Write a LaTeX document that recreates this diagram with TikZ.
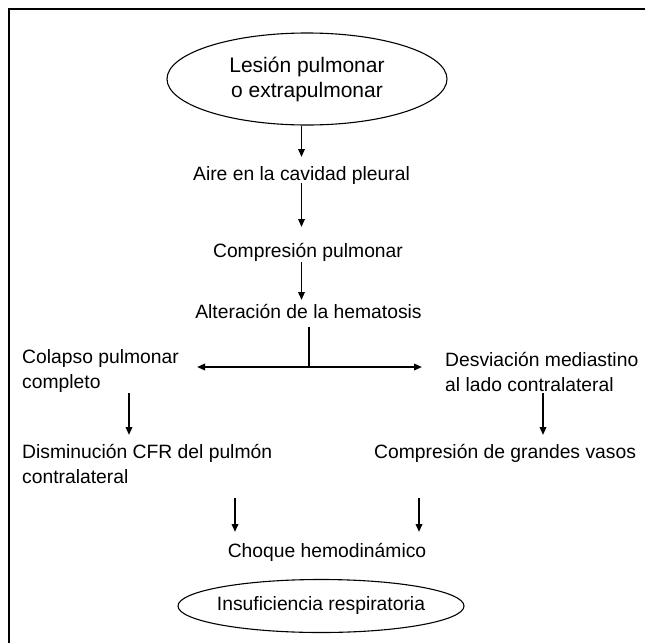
\documentclass[tikz,border=0pt]{standalone}
\usepackage{fontspec}
\setmainfont{Liberation Sans}
\usetikzlibrary{arrows.meta,shapes.geometric}
\begin{document}
\begin{tikzpicture}[x=1pt,y=-1pt,
  txt/.style={inner sep=0pt, font=\fontsize{19.3}{25}\selectfont},
  arr/.style={line width=1.8pt, -{Triangle[length=8pt,width=6.5pt]}},
  plainline/.style={line width=1.8pt},
  ov/.style={draw, line width=1.1pt, ellipse, inner sep=0pt},
  frame/.style={line width=1.6pt}
]
\useasboundingbox (0,0) rectangle (645,643);
\fill[white] (0,0) rectangle (645,643);
\draw[frame] (9,643) -- (9,9) -- (645,9);

\node[ov, minimum width=280pt, minimum height=92pt, align=center,
      font=\fontsize{21}{25}\selectfont] (e1) at (307,79) {Lesión pulmonar\\o extrapulmonar};
\node[txt, anchor=base] (aire) at (301.5,180) {Aire en la cavidad pleural};
\node[txt, anchor=base] (comp) at (308,257) {Compresión pulmonar};
\node[txt, anchor=base] (alt) at (308.5,318) {Alteración de la hematosis};
\node[txt, anchor=base west] (col1) at (22,363) {Colapso pulmonar};
\node[txt, anchor=base west] (col2) at (22,388) {completo};
\node[txt, anchor=base west] (desv1) at (445,366) {Desviación mediastino};
\node[txt, anchor=base west] (desv2) at (445,391) {al lado contralateral};
\node[txt, anchor=base west] (cfr1) at (22,458) {Disminución CFR del pulmón};
\node[txt, anchor=base west] (cfr2) at (22,483) {contralateral};
\node[txt, anchor=base west] (vasos) at (374,458) {Compresión de grandes vasos};
\node[txt, anchor=base] (choque) at (327,557) {Choque hemodinámico};
\node[ov, minimum width=286pt, minimum height=53pt, inner xsep=-4pt,
      font=\fontsize{19.3}{25}\selectfont] (e2) at (321,606) {Insuficiencia respiratoria};

\draw[arr, shorten >=23pt] (e1.south -| aire.base) -- (aire.base);
\draw[arr, shorten <=3pt, shorten >=30pt] (aire.base) -- (aire.base |- comp.base);
\draw[arr, shorten <=5pt, shorten >=18pt] (comp.base -| aire.base) -- (alt.base -| aire.base);

\coordinate (j) at (309,367);
\draw[plainline, shorten <=9pt] (alt.base -| j) -- (j);
\draw[arr, shorten >=18pt] (j) -- (j -| col1.east);
\draw[arr, shorten >=23pt] (j) -- (j -| desv1.west);

\coordinate (la) at ([xshift=107pt]col2.base west);
\coordinate (ra) at ([xshift=98pt]desv2.base west);
\draw[arr, shorten <=5pt, shorten >=23pt] (la) -- (la |- cfr1.base);
\draw[arr, shorten <=2pt, shorten >=23pt] (ra) -- (ra |- vasos.base);

\coordinate (lb) at ([xshift=-92pt]choque.base);
\coordinate (rb) at ([xshift=92pt]choque.base);
\draw[arr, shorten <=15pt, shorten >=25pt] (lb |- cfr2.base) -- (lb);
\draw[arr, shorten <=15pt, shorten >=25pt] (rb |- cfr2.base) -- (rb);
\end{tikzpicture}
\end{document}
